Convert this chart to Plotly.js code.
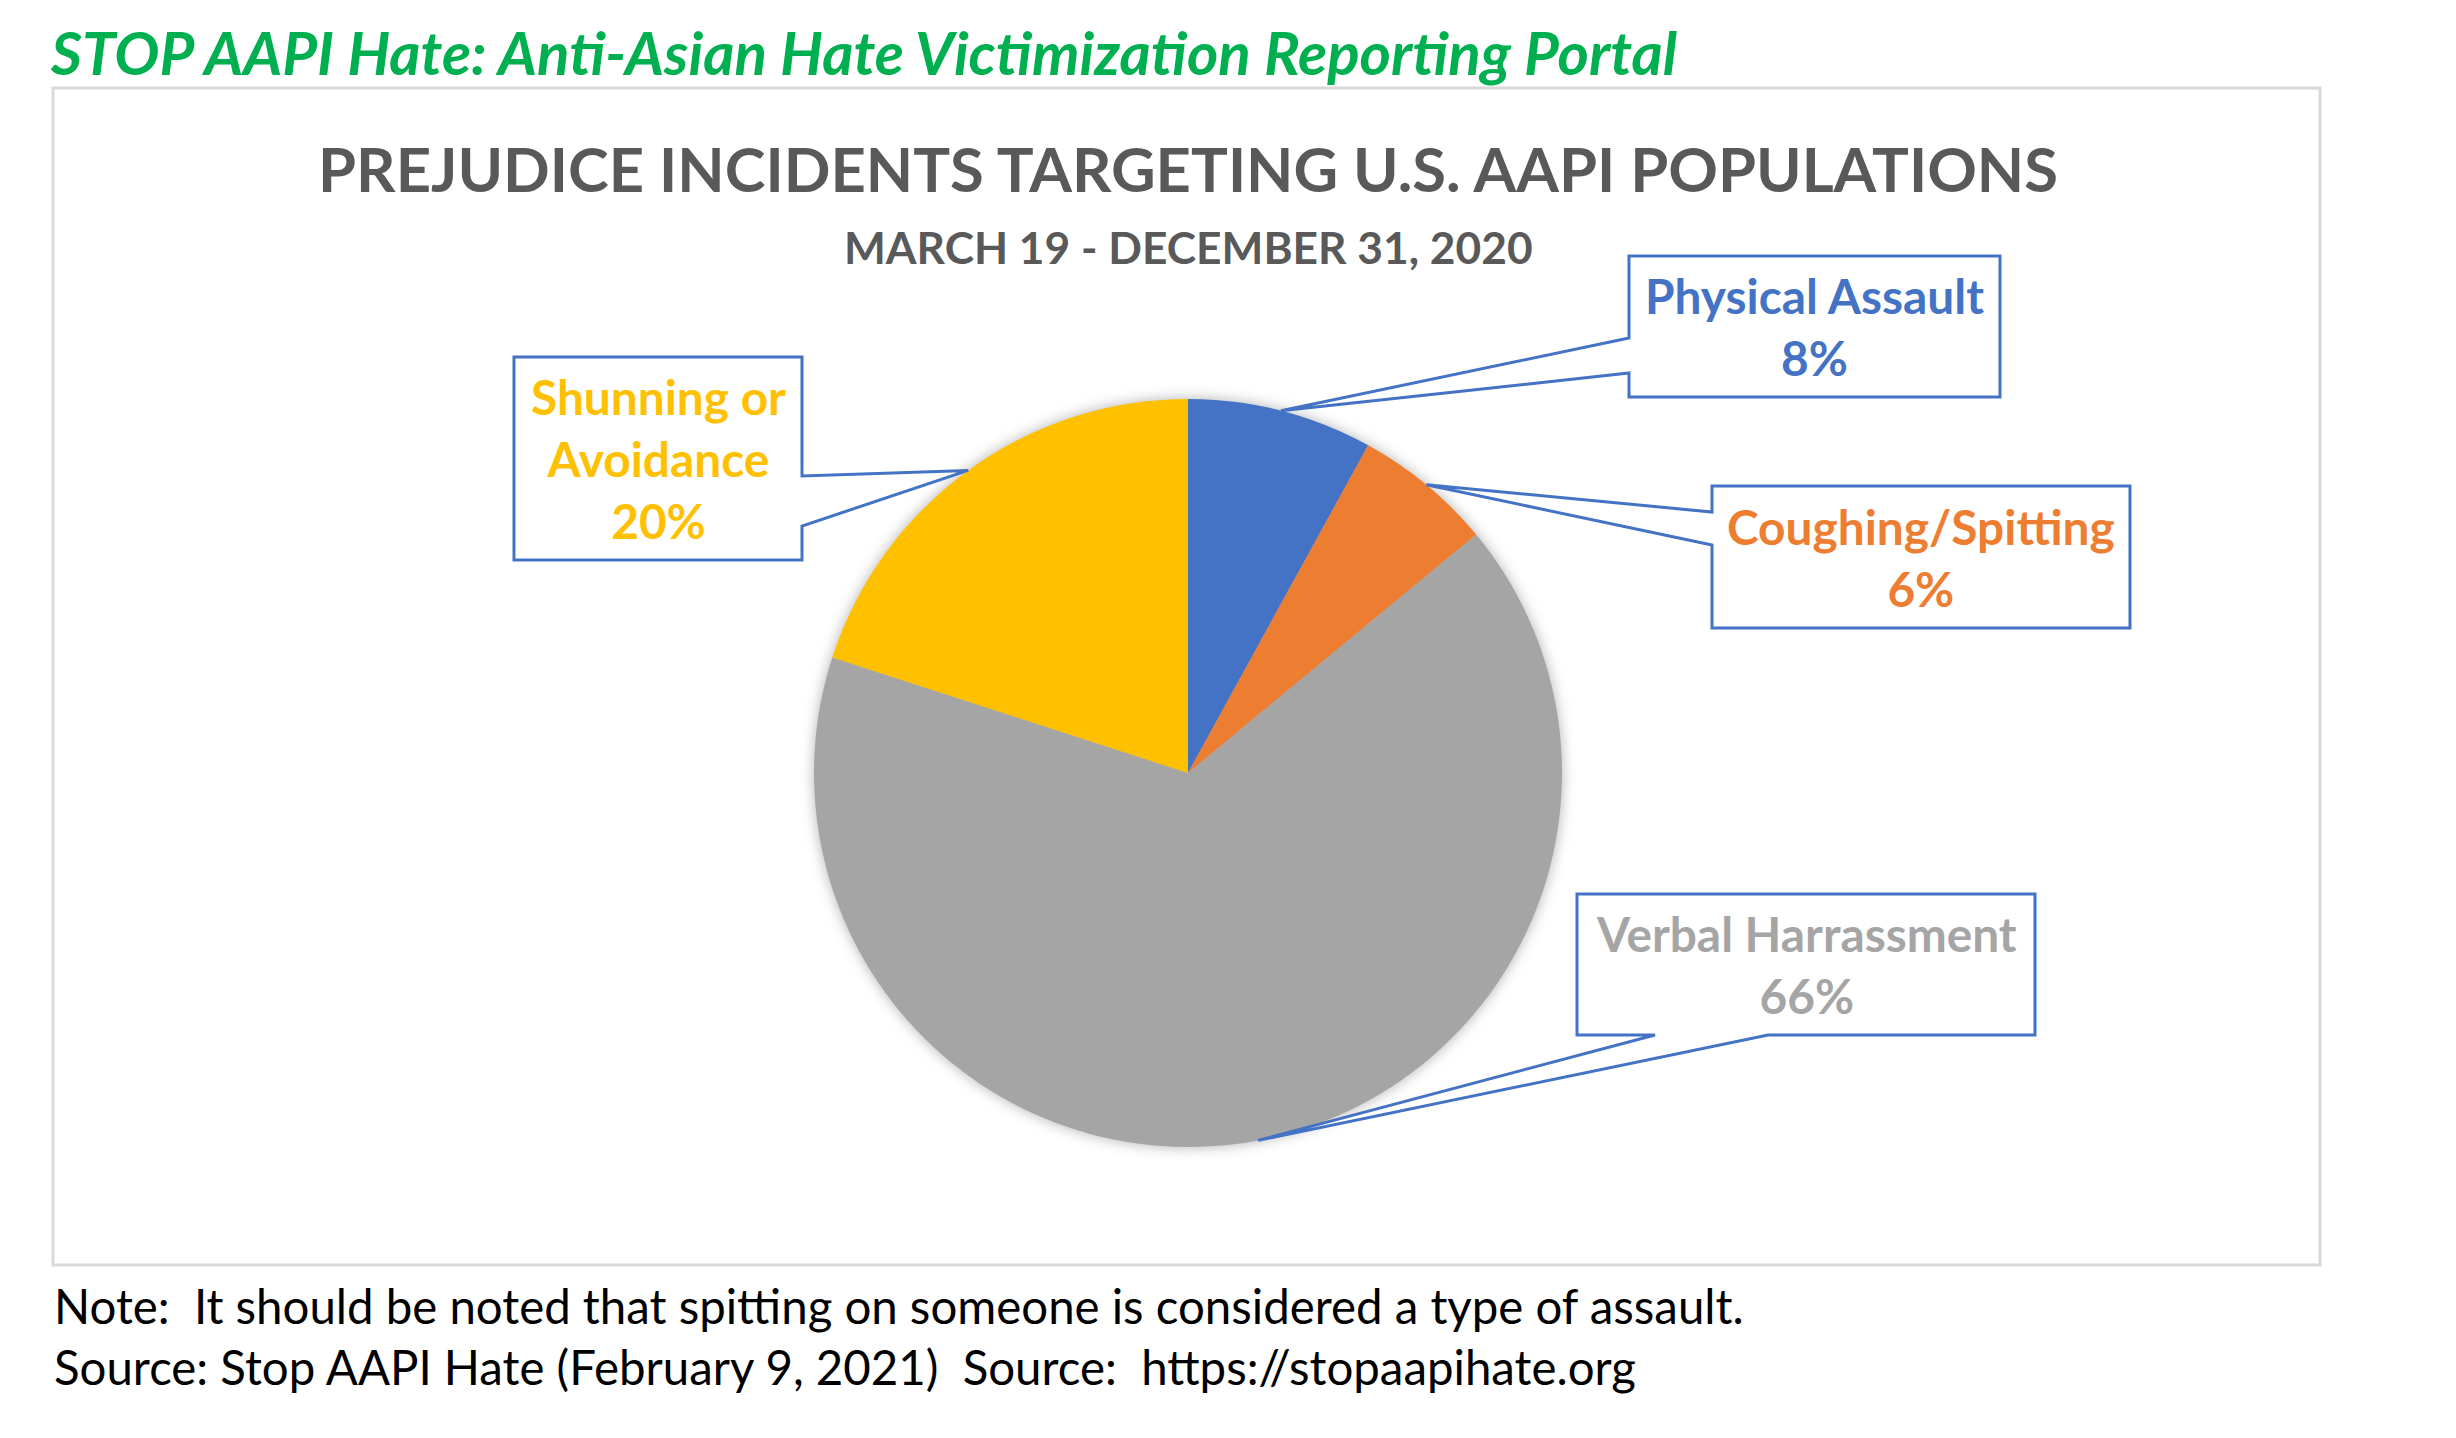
<!DOCTYPE html>
<html>
<head>
<meta charset="utf-8">
<script src="https://cdn.plot.ly/plotly-3.0.1.min.js"></script>
<style>
  html, body { margin: 0; padding: 0; background: #ffffff; }
  #chart { width: 2456px; height: 1438px; }
  .pielayer { filter: drop-shadow(0px 0px 7px rgba(0,0,0,0.30)); }
</style>
</head>
<body>
<div id="chart"></div>
<script>
// ---- data ----
const categories = ['Physical Assault', 'Coughing/Spitting', 'Verbal Harrassment', 'Shunning or Avoidance'];
const shares = [8, 6, 66, 20];
const labelText = ['Physical Assault', 'Coughing/Spitting', 'Verbal Harrassment', 'Shunning or<br>Avoidance'];
const sliceColors = ['#4472C4', '#ED7D31', '#A5A5A5', '#FFC000'];

const headerText = 'STOP AAPI Hate: Anti-Asian Hate Victimization Reporting Portal';
const titleText = 'PREJUDICE INCIDENTS TARGETING U.S. AAPI POPULATIONS';
const subtitleText = 'MARCH 19 - DECEMBER 31, 2020';
const noteText = 'Note:  It should be noted that spitting on someone is considered a type of assault.';
const sourceText = 'Source: Stop AAPI Hate (February 9, 2021)  Source:  https://stopaapihate.org';

// ---- layout geometry (pixels) ----
const W = 2456, H = 1438;
const CX = 1188, CY = 773, R = 374;
const px = x => x / W;
const py = y => 1 - y / H;
const FONT = 'Lato, "Open Sans", sans-serif';
const BLUE = '#4472C4';

// callout boxes (layout only)
const boxes = [
  { x0: 1629, y0: 256, x1: 2000, y1: 397, side: 'left',   b1: 338,  b2: 373 },
  { x0: 1712, y0: 486, x1: 2130, y1: 628, side: 'left',   b1: 512,  b2: 545 },
  { x0: 1577, y0: 894, x1: 2035, y1: 1035, side: 'bottom', b1: 1655, b2: 1768 },
  { x0: 514,  y0: 357, x1: 802,  y1: 560, side: 'right',  b1: 476,  b2: 526 }
];

const total = shares.reduce((a, b) => a + b, 0);
let cum = 0;
const tips = shares.map(v => {
  const mid = (cum + v / 2) / total;
  cum += v;
  const th = 2 * Math.PI * mid;
  return [CX + R * Math.sin(th), CY - R * Math.cos(th)];
});

function P(x, y) { return px(x).toFixed(5) + ',' + py(y).toFixed(5); }
function calloutPath(b, t) {
  const tp = P(t[0], t[1]);
  if (b.side === 'left') {
    return 'M' + P(b.x0, b.y0) + ' L' + P(b.x1, b.y0) + ' L' + P(b.x1, b.y1) + ' L' + P(b.x0, b.y1) +
      ' L' + P(b.x0, b.b2) + ' L' + tp + ' L' + P(b.x0, b.b1) + ' Z';
  } else if (b.side === 'right') {
    return 'M' + P(b.x0, b.y0) + ' L' + P(b.x1, b.y0) + ' L' + P(b.x1, b.b1) + ' L' + tp +
      ' L' + P(b.x1, b.b2) + ' L' + P(b.x1, b.y1) + ' L' + P(b.x0, b.y1) + ' Z';
  } else {
    return 'M' + P(b.x0, b.y0) + ' L' + P(b.x1, b.y0) + ' L' + P(b.x1, b.y1) + ' L' + P(b.b2, b.y1) +
      ' L' + tp + ' L' + P(b.b1, b.y1) + ' L' + P(b.x0, b.y1) + ' Z';
  }
}

const shapes = [
  { type: 'rect', xref: 'paper', yref: 'paper', x0: px(53), x1: px(2320), y0: py(88), y1: py(1265),
    line: { color: '#D9D9D9', width: 3 }, fillcolor: 'rgba(0,0,0,0)', layer: 'below' }
];
boxes.forEach((b, i) => {
  shapes.push({ type: 'path', xref: 'paper', yref: 'paper', path: calloutPath(b, tips[i]),
    fillcolor: '#ffffff', line: { color: BLUE, width: 3 }, layer: 'above' });
});

const annotations = [];
boxes.forEach((b, i) => {
  annotations.push({
    xref: 'paper', yref: 'paper', x: px((b.x0 + b.x1) / 2), y: py((b.y0 + b.y1) / 2),
    xanchor: 'center', yanchor: 'middle', showarrow: false, align: 'center',
    text: labelText[i] + '<br>' + Math.round(shares[i] / total * 100) + '%',
    font: { family: FONT, size: 47.8, color: sliceColors[i], weight: 700 }
  });
});
function textAnn(text, x, y, size, color, extra) {
  return Object.assign({ xref: 'paper', yref: 'paper', x: px(x), y: py(y), xanchor: 'left', yanchor: 'middle',
    showarrow: false, text: text, font: { family: FONT, size: size, color: color } }, extra || {});
}
annotations.push(textAnn(headerText, 48, 52, 60, '#00B050', { font: { family: FONT, size: 60, color: '#00B050', weight: 700, style: 'italic' } }));
annotations.push(textAnn(subtitleText, CX, 246, 44.3, '#595959', { xanchor: 'center', font: { family: FONT, size: 44.3, color: '#595959', weight: 700 } }));
annotations.push(textAnn(noteText, 52, 1305, 47.4, '#000000'));
annotations.push(textAnn(sourceText, 52, 1366, 47.4, '#000000'));

const trace = {
  type: 'pie',
  labels: categories,
  values: shares,
  sort: false,
  direction: 'clockwise',
  rotation: 0,
  textinfo: 'none',
  hoverinfo: 'label+percent',
  marker: { colors: sliceColors, line: { width: 0 } },
  domain: { x: [px(CX - R), px(CX + R)], y: [py(CY + R), py(CY - R)] },
  showlegend: false
};

const layout = {
  width: W, height: H,
  margin: { l: 0, r: 0, t: 0, b: 0, pad: 0 },
  paper_bgcolor: '#ffffff',
  plot_bgcolor: '#ffffff',
  showlegend: false,
  title: { text: titleText, x: px(CX), xanchor: 'center', xref: 'paper', y: py(170), yanchor: 'middle', yref: 'container',
    font: { family: FONT, size: 61.5, color: '#595959', weight: 700 } },
  shapes: shapes,
  annotations: annotations
};

Plotly.newPlot('chart', [trace], layout, { displayModeBar: false, staticPlot: true });
</script>
</body>
</html>
